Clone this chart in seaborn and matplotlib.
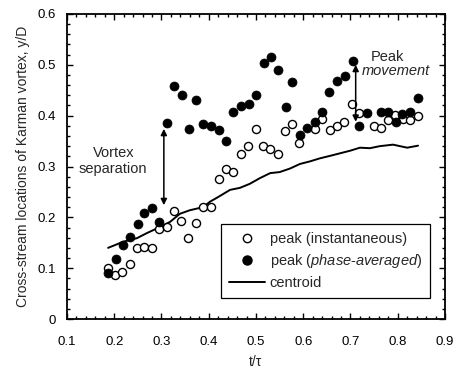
import matplotlib
matplotlib.use("Agg")
import matplotlib.pyplot as plt
import seaborn as sns
import pandas as pd
from matplotlib.lines import Line2D
from matplotlib.ticker import MultipleLocator, FuncFormatter

# peak location from instantaneous fields
t_inst = [0.187, 0.202, 0.217, 0.233, 0.248, 0.263, 0.280, 0.295, 0.311, 0.326,
          0.341, 0.356, 0.373, 0.388, 0.405, 0.422, 0.437, 0.451, 0.468, 0.483,
          0.500, 0.515, 0.530, 0.546, 0.561, 0.576, 0.591, 0.625, 0.640, 0.657,
          0.671, 0.686, 0.703, 0.718, 0.750, 0.764, 0.779, 0.795, 0.811, 0.826,
          0.842]
y_inst = [0.100, 0.087, 0.093, 0.108, 0.140, 0.142, 0.140, 0.177, 0.181, 0.213,
          0.193, 0.160, 0.189, 0.220, 0.220, 0.276, 0.295, 0.289, 0.325, 0.341,
          0.374, 0.340, 0.335, 0.324, 0.370, 0.384, 0.347, 0.374, 0.394, 0.372,
          0.380, 0.388, 0.423, 0.405, 0.380, 0.376, 0.392, 0.401, 0.394, 0.392,
          0.399]

# peak location from phase-averaged fields
t_avg = [0.187, 0.204, 0.219, 0.233, 0.250, 0.263, 0.280, 0.295, 0.311, 0.326,
         0.343, 0.358, 0.373, 0.388, 0.405, 0.422, 0.437, 0.451, 0.468, 0.485,
         0.500, 0.517, 0.532, 0.547, 0.563, 0.576, 0.593, 0.608, 0.625, 0.640,
         0.655, 0.671, 0.688, 0.705, 0.718, 0.735, 0.765, 0.779, 0.796, 0.810,
         0.827, 0.842]
y_avg = [0.091, 0.118, 0.146, 0.161, 0.187, 0.209, 0.218, 0.191, 0.386, 0.459,
         0.441, 0.374, 0.431, 0.384, 0.380, 0.372, 0.350, 0.407, 0.419, 0.423,
         0.441, 0.504, 0.515, 0.489, 0.417, 0.467, 0.361, 0.375, 0.388, 0.408,
         0.446, 0.469, 0.478, 0.508, 0.380, 0.405, 0.408, 0.408, 0.388, 0.403,
         0.408, 0.435]

# vortex centroid
t_cen = [0.187, 0.219, 0.248, 0.269, 0.297, 0.318, 0.339, 0.360, 0.388, 0.403,
         0.420, 0.445, 0.466, 0.487, 0.508, 0.530, 0.550, 0.572, 0.593, 0.614,
         0.635, 0.657, 0.678, 0.699, 0.720, 0.741, 0.762, 0.790, 0.820, 0.843]
y_cen = [0.140, 0.152, 0.159, 0.169, 0.181, 0.191, 0.207, 0.214, 0.220, 0.231,
         0.240, 0.254, 0.258, 0.266, 0.277, 0.287, 0.289, 0.296, 0.305, 0.310,
         0.316, 0.321, 0.326, 0.331, 0.337, 0.336, 0.340, 0.343, 0.337, 0.341]

labels = ["peak (instantaneous)",
          r"peak ($\mathit{phase}$-$\mathit{averaged}$)",
          "centroid"]

sns.set_theme(style="ticks")
plt.rcParams["font.family"] = ["Liberation Sans", "DejaVu Sans"]
plt.rcParams["mathtext.fontset"] = "custom"
plt.rcParams["mathtext.rm"] = "Liberation Sans"
plt.rcParams["mathtext.it"] = "Liberation Sans:italic"

fig = plt.figure(figsize=(4.57, 3.74), dpi=100)
ax = fig.add_axes([0.1466, 0.147, 0.8271, 0.8156])

df_inst = pd.DataFrame({"t": t_inst, "y": y_inst})
df_avg = pd.DataFrame({"t": t_avg, "y": y_avg})
df_cen = pd.DataFrame({"t": t_cen, "y": y_cen})

sns.lineplot(data=df_cen, x="t", y="y", ax=ax, color="black", lw=1.4,
             sort=False, zorder=2)
sns.scatterplot(data=df_inst, x="t", y="y", ax=ax, marker="o", s=34,
                facecolor="white", edgecolor="black", linewidth=1.0, zorder=3)
sns.scatterplot(data=df_avg, x="t", y="y", ax=ax, marker="o", s=42,
                color="black", edgecolor="black", linewidth=0.5, zorder=4)

ax.set_xlim(0.1, 0.9)
ax.set_ylim(0, 0.6)
ax.xaxis.set_major_locator(MultipleLocator(0.1))
ax.xaxis.set_minor_locator(MultipleLocator(0.02))
ax.yaxis.set_major_locator(MultipleLocator(0.1))
ax.yaxis.set_minor_locator(MultipleLocator(0.02))
ax.xaxis.set_major_formatter(FuncFormatter(lambda v, p: f"{v:.1f}"))
ax.yaxis.set_major_formatter(FuncFormatter(lambda v, p: "0" if abs(v) < 1e-9 else f"{v:.1f}"))
ax.tick_params(which="both", direction="in", top=True, right=True,
               colors="black", labelsize=9.5, width=1.0)
ax.tick_params(which="major", length=4.5)
ax.tick_params(which="minor", length=2.5)
ax.tick_params(axis="x", which="major", pad=12)
ax.tick_params(axis="y", which="major", pad=8)
for sp in ax.spines.values():
    sp.set_linewidth(1.3)
    sp.set_color("black")

ax.set_xlabel("t/τ", fontsize=10, labelpad=5)
ax.set_ylabel("Cross-stream locations of Karman vortex, y/D", fontsize=10,
              labelpad=5)

# annotation arrows
ax.annotate("", xy=(0.305, 0.374), xytext=(0.305, 0.224),
            arrowprops=dict(arrowstyle="<|-|>", color="black", lw=1.1,
                            mutation_scale=9, shrinkA=0, shrinkB=0))
ax.annotate("", xy=(0.711, 0.500), xytext=(0.711, 0.388),
            arrowprops=dict(arrowstyle="<|-|>", color="black", lw=1.1,
                            mutation_scale=9, shrinkA=0, shrinkB=0))
ax.text(0.199, 0.327, "Vortex", fontsize=10.5, ha="center", va="center")
ax.text(0.197, 0.295, "separation", fontsize=10.5, ha="center", va="center")
ax.text(0.779, 0.516, "Peak", fontsize=10.5, ha="center", va="center")
ax.text(0.797, 0.488, "movement", fontsize=10.5, ha="center", va="center",
        style="italic")

handles = [
    Line2D([], [], ls="none", marker="o", ms=6, mfc="white", mec="black", mew=1.0),
    Line2D([], [], ls="none", marker="o", ms=6.5, mfc="black", mec="black"),
    Line2D([], [], color="black", lw=1.4),
]
leg = ax.legend(handles, labels, loc="lower right",
                bbox_to_anchor=(0.960, 0.069), borderaxespad=0,
                fontsize=10.5, frameon=True,
                fancybox=False, edgecolor="black", framealpha=1,
                handlelength=2.5, handletextpad=0.3, labelspacing=0.4,
                borderpad=0.55)
leg.get_frame().set_linewidth(0.9)

fig.savefig("out.png", dpi=100)
